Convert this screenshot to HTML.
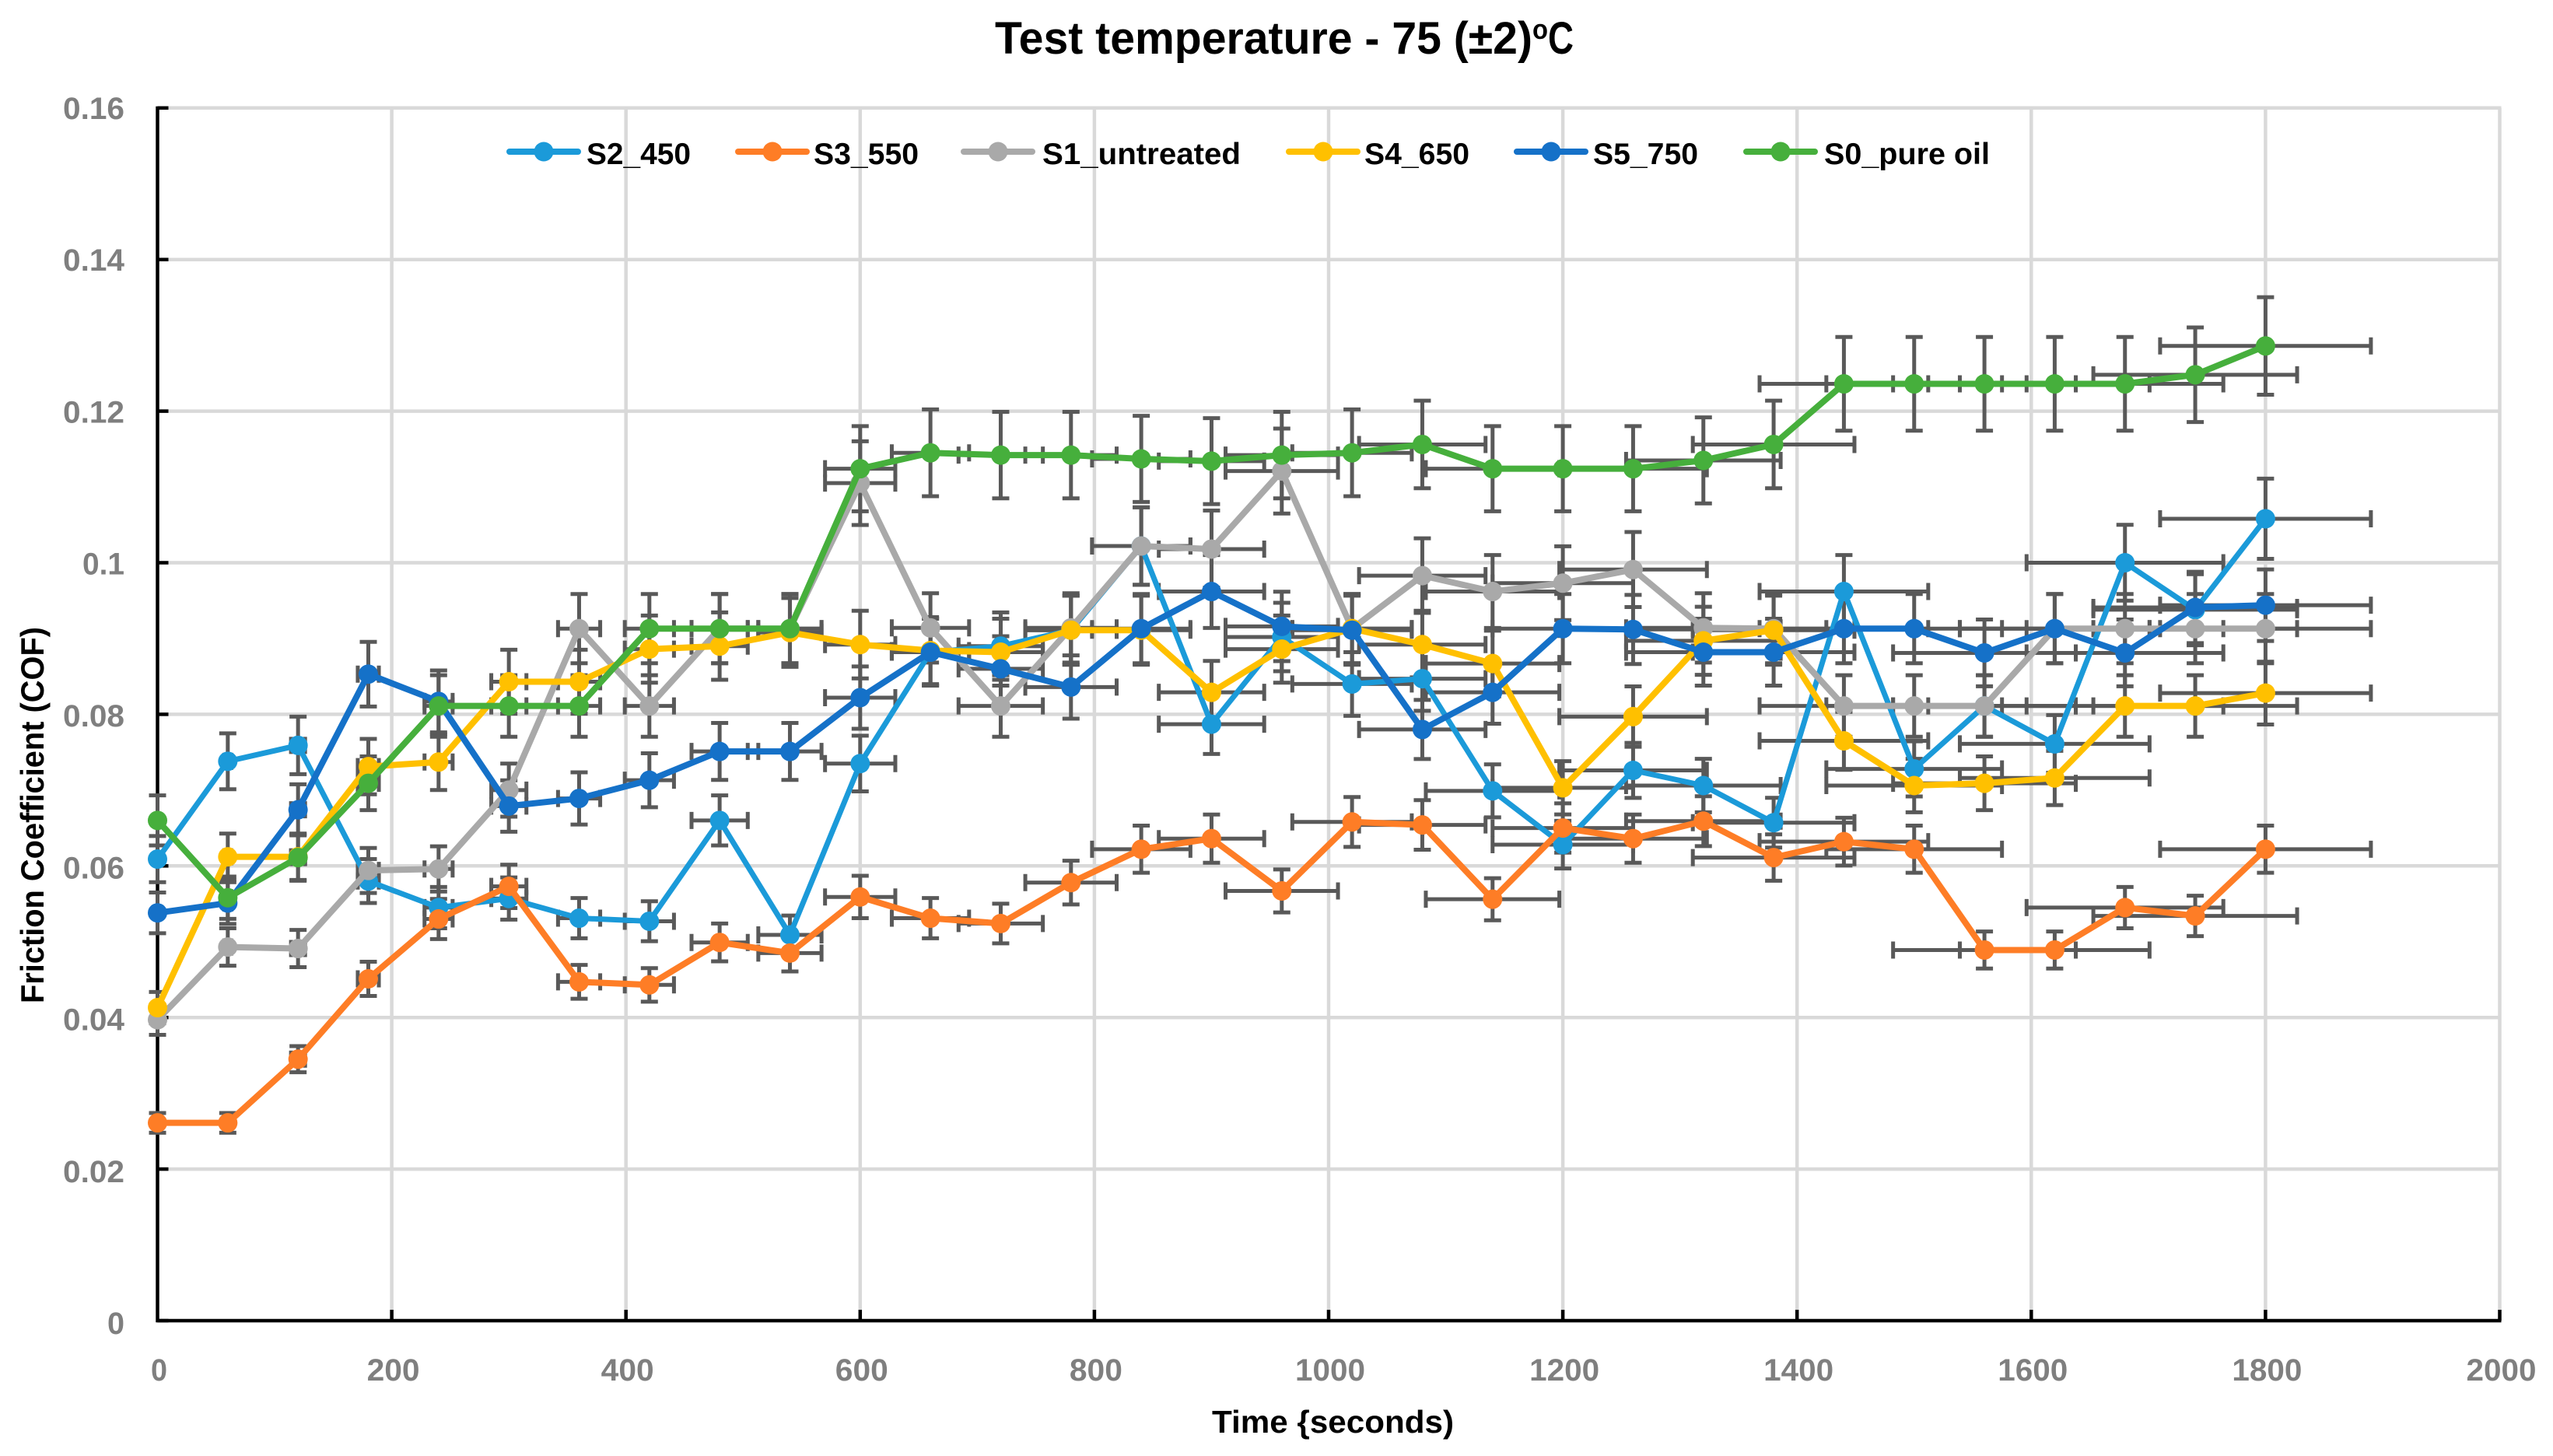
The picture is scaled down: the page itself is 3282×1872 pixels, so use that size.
<!DOCTYPE html>
<html lang="en">
<head>
<meta charset="utf-8">
<title>Test temperature - 75 (±2)°C</title>
<style>
html,body{margin:0;padding:0;background:#fff;}
svg{display:block;}
text{font-family:"Liberation Sans",sans-serif;font-weight:700;}
</style>
</head>
<body>
<svg id="chart" xmlns="http://www.w3.org/2000/svg" width="3282" height="1872" viewBox="0 0 3282 1872">
  <rect x="0" y="0" width="3282" height="1872" fill="#ffffff"/>
  <g id="grid"></g>
  <g id="axes"></g>
  <g id="ticklabels"></g>
  <text y="69" font-size="58" fill="#000"><tspan x="1279" textLength="691" lengthAdjust="spacingAndGlyphs">Test temperature - 75 (±2)</tspan><tspan x="1970" y="50" font-size="36" textLength="20" lengthAdjust="spacingAndGlyphs">o</tspan><tspan x="1990" y="69" textLength="33" lengthAdjust="spacingAndGlyphs">C</tspan></text>
  <text x="1558" y="1842" font-size="41" fill="#000" textLength="311" lengthAdjust="spacingAndGlyphs">Time {seconds)</text>
  <text transform="translate(56,1290) rotate(-90)" font-size="42" fill="#000" textLength="484" lengthAdjust="spacingAndGlyphs">Friction Coefficient (COF)</text>
  <g id="errorbars"></g>
  <g id="series"></g>
  <g id="legend"></g>
</svg>
<script>
// ---- chart data ----
const times = [0,60,120,180,240,300,360,420,480,540,600,660,720,780,840,900,960,1020,1080,1140,1200,1260,1320,1380,1440,1500,1560,1620,1680,1740,1800];
const s2_450 = [0.0609,0.0738,0.0759,0.0580,0.0545,0.0557,0.0531,0.0527,0.0660,0.0509,0.0735,0.0882,0.0890,0.0911,0.1022,0.0787,0.0902,0.0840,0.0847,0.0699,0.0628,0.0726,0.0706,0.0657,0.0962,0.0728,0.0811,0.0761,0.1000,0.0938,0.1058];
const s3_550 = [0.0261,0.0261,0.0345,0.0451,0.0530,0.0573,0.0447,0.0443,0.0499,0.0485,0.0559,0.0531,0.0524,0.0578,0.0622,0.0636,0.0567,0.0658,0.0654,0.0556,0.0650,0.0636,0.0659,0.0611,0.0632,0.0622,0.0489,0.0489,0.0545,0.0534,0.0622];
const s1_untreated = [0.0397,0.0493,0.0491,0.0594,0.0596,0.0700,0.0913,0.0811,0.0913,0.0913,0.1105,0.0914,0.0811,0.0914,0.1022,0.1018,0.1121,0.0913,0.0983,0.0962,0.0973,0.0991,0.0914,0.0913,0.0811,0.0811,0.0811,0.0913,0.0913,0.0913,0.0913];
const s4_650 = [0.0413,0.0612,0.0612,0.0731,0.0737,0.0843,0.0843,0.0886,0.0890,0.0908,0.0892,0.0884,0.0882,0.0911,0.0911,0.0829,0.0886,0.0913,0.0892,0.0867,0.0703,0.0797,0.0897,0.0911,0.0765,0.0706,0.0709,0.0716,0.0811,0.0811,0.0828];
const s5_750 = [0.0538,0.0551,0.0674,0.0853,0.0817,0.0679,0.0689,0.0713,0.0751,0.0751,0.0822,0.0882,0.0860,0.0836,0.0913,0.0962,0.0916,0.0911,0.0780,0.0829,0.0913,0.0912,0.0882,0.0882,0.0913,0.0913,0.0881,0.0913,0.0881,0.0941,0.0944];
const s0_pure_oil = [0.0660,0.0558,0.0611,0.0709,0.0811,0.0811,0.0811,0.0913,0.0913,0.0913,0.1124,0.1145,0.1142,0.1142,0.1137,0.1134,0.1142,0.1145,0.1156,0.1124,0.1124,0.1124,0.1135,0.1156,0.1236,0.1236,0.1236,0.1236,0.1236,0.1248,0.1286];
const seriesNames = ["S2_450","S3_550","S1_untreated","S4_650","S5_750","S0_pure oil"];
const seriesValues = [s2_450,s3_550,s1_untreated,s4_650,s5_750,s0_pure_oil];
const seriesColors = ["#1b9ad9","#fe7d26","#a9a9a9","#ffc000","#1571c8","#46af3c"];
const seriesWidths = [7,8,8,8,8,8];
const xTicks = [0,200,400,600,800,1000,1200,1400,1600,1800,2000];
const yTicks = [0,0.02,0.04,0.06,0.08,0.1,0.12,0.14,0.16];
const errorPercent = 5;

// ---- axis functions ----
const X0 = 202.5, PX_PER_SEC = 1.5055;
const Y0 = 1698, PX_PER_COF = 9745;
function xPos(t){ return X0 + t * PX_PER_SEC; }
function yPos(v){ return Y0 - v * PX_PER_COF; }

const NS = "http://www.w3.org/2000/svg";
function make(tag, attrs, parent){
  const el = document.createElementNS(NS, tag);
  for (const k in attrs) el.setAttribute(k, attrs[k]);
  parent.appendChild(el);
  return el;
}
const grid = document.getElementById("grid");
const axes = document.getElementById("axes");
const tickLabels = document.getElementById("ticklabels");
const errorBars = document.getElementById("errorbars");
const seriesGroup = document.getElementById("series");
const legend = document.getElementById("legend");
const xTop = yPos(0.16), xRight = xPos(2000);

// gridlines + ticks + tick labels
yTicks.forEach(function(v){
  const y = yPos(v);
  if (v > 0) {
    const g = make("line",{x1:X0,x2:xRight+2,y1:y,y2:y,stroke:"#d9d9d9","stroke-width":4.5},grid);
    
    
  }
  const t = make("line",{x1:X0,x2:X0+14,y1:y,y2:y,stroke:"#000","stroke-width":4.5},axes);
  
  
  const s = String(v);
  const w = s.length === 1 ? 22 : (s.length === 3 ? 54 : 79);
  const lab = make("text",{x:160-w,y:y+14+(0.16-v)*20,"font-size":40,fill:"#7f7f7f",textLength:w,lengthAdjust:"spacingAndGlyphs"},tickLabels);
  lab.textContent = s;
  
  
});
xTicks.forEach(function(v){
  const x = xPos(v);
  if (v > 0) {
    const g = make("line",{x1:x,x2:x,y1:xTop,y2:Y0,stroke:"#d9d9d9","stroke-width":4.5},grid);
    
    
    const t = make("line",{x1:x,x2:x,y1:Y0-14,y2:Y0,stroke:"#000","stroke-width":4.5},axes);
    
    
  }
  const s = String(v);
  const w = s.length === 1 ? 21 : (s.length === 3 ? 68 : 90);
  const lab = make("text",{x:x+2-w/2,y:1775,"font-size":40,fill:"#7f7f7f",textLength:w,lengthAdjust:"spacingAndGlyphs"},tickLabels);
  lab.textContent = s;
  
  
});
const yAxis = make("line",{x1:X0,x2:X0,y1:xTop-2,y2:Y0+2,stroke:"#000","stroke-width":4.5},axes);


const xAxis = make("line",{x1:X0-2,x2:xRight+2,y1:Y0,y2:Y0,stroke:"#000","stroke-width":4.5},axes);



// error bars (percentage of each point's x and y), under every series
seriesValues.forEach(function(vals){
  vals.forEach(function(v,i){
    const t = times[i];
    const dy = v * errorPercent / 100, dx = t * errorPercent / 100;
    const px = xPos(t), py = yPos(v);
    const d = "M"+px+" "+yPos(v+dy)+"V"+yPos(v-dy)+
      "M"+(px-11)+" "+yPos(v+dy)+"h22M"+(px-11)+" "+yPos(v-dy)+"h22";
    const vb = make("path",{d:d,stroke:"#595959","stroke-width":5,fill:"none"},errorBars);
    
    
    const d2 = "M"+xPos(t-dx)+" "+py+"H"+xPos(t+dx)+
      "M"+xPos(t-dx)+" "+(py-11)+"v22M"+xPos(t+dx)+" "+(py-11)+"v22";
    const hb = make("path",{d:d2,stroke:"#595959","stroke-width":5,fill:"none"},errorBars);
    
    
  });
});

// series lines + markers
seriesValues.forEach(function(vals,si){
  const g = make("g",{},seriesGroup);
  
  
  const pts = vals.map(function(v,i){ return xPos(times[i])+","+yPos(v); }).join(" ");
  const line = make("polyline",{points:pts,fill:"none",stroke:seriesColors[si],"stroke-width":seriesWidths[si],"stroke-linejoin":"round","stroke-linecap":"round"},g);
  
  
  vals.forEach(function(v,i){
    const c = make("circle",{cx:xPos(times[i]),cy:yPos(v),r:12.5,fill:seriesColors[si]},g);
    
    
  });
});

// legend
const legendLineStart = [652,946,1236,1654,1947,2242];
const legendTextStart = [754,1046,1340,1754,2048,2345];
const legendTextWidth = [134,135,255,135,135,213];
seriesNames.forEach(function(name,si){
  const g = make("g",{},legend);
  
  
  const x0 = legendLineStart[si];
  const l = make("line",{x1:x0+3,x2:x0+91,y1:195,y2:195,stroke:seriesColors[si],"stroke-width":8,"stroke-linecap":"round"},g);
  
  
  const c = make("circle",{cx:x0+47,cy:195,r:12.5,fill:seriesColors[si]},g);
  
  
  const t = make("text",{x:legendTextStart[si],y:211,"font-size":39,fill:"#000",textLength:legendTextWidth[si],lengthAdjust:"spacingAndGlyphs"},g);
  t.textContent = name;
  
  
});
</script>
</body>
</html>
